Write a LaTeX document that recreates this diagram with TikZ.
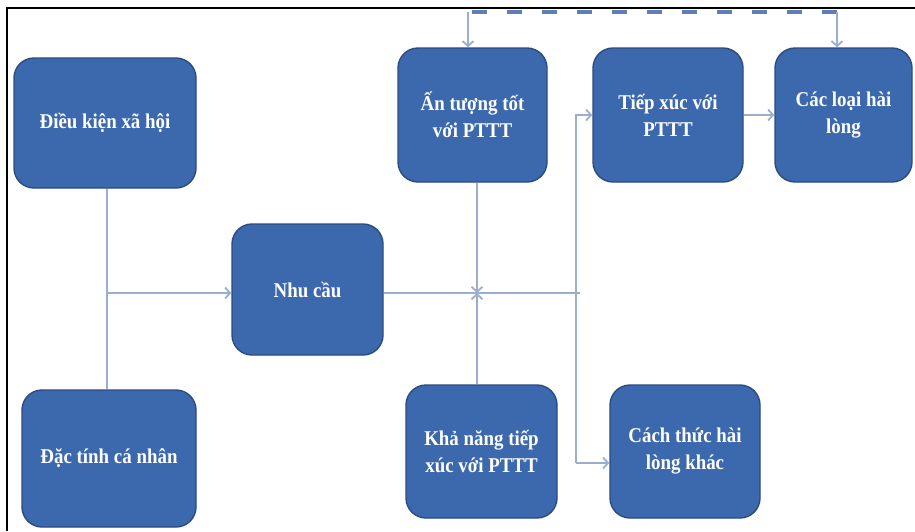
\documentclass[tikz,border=0pt]{standalone}
\usepackage{fontspec}
\setmainfont{Liberation Serif}[FakeStretch=0.9]
\usepackage{tikz}
\usetikzlibrary{shapes,arrows,arrows.meta,positioning}
\definecolor{boxblue}{HTML}{3C69AE}
\definecolor{boxline}{HTML}{2B4C80}
\definecolor{linkcol}{HTML}{9AAECF}
\definecolor{fbcol}{HTML}{5F7FB3}
\tikzset{
	box/.style={draw=boxline,line width=1.4pt,fill=boxblue,rounded corners=20pt,text=white,font=\fontsize{21}{27}\selectfont\bfseries,align=center,inner sep=0pt},
	link/.style={draw=linkcol,line width=1.8pt,-{Straight Barb[length=5pt,width=11pt]}},
	fb/.style={draw=fbcol,line width=3.2pt,dash pattern=on 15pt off 20pt,dash phase=-4pt},
	fbtip/.style={draw=linkcol,line width=1.8pt,-{Straight Barb[length=5pt,width=11pt]}}
}
\begin{document}
\begin{tikzpicture}[x=1pt,y=-1pt]
			\useasboundingbox (0,0) rectangle (915,531);
			\fill[white] (0,0) rectangle (915,531);
			\draw[black,line width=1.3pt] (7,531) -- (7,8) -- (915,8);
			\node[box,minimum width=182,minimum height=130] (dk) at (105,123) {Điều kiện xã hội};
			\node[box,minimum width=174,minimum height=137] (dt) at (109,458.5) {Đặc tính cá nhân};
			\node[box,minimum width=151,minimum height=131] (nc) at (307.5,289.5) {Nhu cầu};
			\node[box,minimum width=149,minimum height=134] (at) at (472.5,115) {Ấn tượng tốt\\với PTTT};
			\node[box,minimum width=150,minimum height=134] (tx) at (668,115) {Tiếp xúc với\\PTTT};
			\node[box,minimum width=137,minimum height=134] (cl) at (843.5,115) {Các loại hài\\lòng};
			\node[box,minimum width=151,minimum height=133] (kn) at (481.5,451.5) {Khả năng tiếp\\xúc với PTTT};
			\node[box,minimum width=150,minimum height=133] (ct) at (685,451.5) {Cách thức hài\\lòng khác};
			\coordinate (j1) at (107,293);
			\coordinate (j2) at (580,293);
			\coordinate (j3) at (477,293);
			\coordinate (up) at (576,115);
			\coordinate (dn) at (576,463);
			\coordinate (d1) at (468,12);
			\coordinate (d2) at (837,12);
			\draw[link,-] (dk.south -| j1) -- (dt.north -| j1);
			\draw[link] (j1) -- (nc.west |- j1);
			\draw[link,-] (nc.east |- j2) -- (j2);
			\draw[link] (at.south -| j3) -- (j3);
			\draw[link] (kn.north -| j3) -- (j3);
			\draw[link] (dn) -- (up) -- (tx.west |- up);
			\draw[link] (up |- dn) -- (ct.west |- dn);
			\draw[link] (tx.east) -- (cl.west);
			\draw[fb] (d1) -- (d2);
			\draw[fbtip] (d1) -- (d1 |- at.north);
			\draw[fbtip] (d2) -- (d2 |- cl.north);
		\end{tikzpicture}
\end{document}
